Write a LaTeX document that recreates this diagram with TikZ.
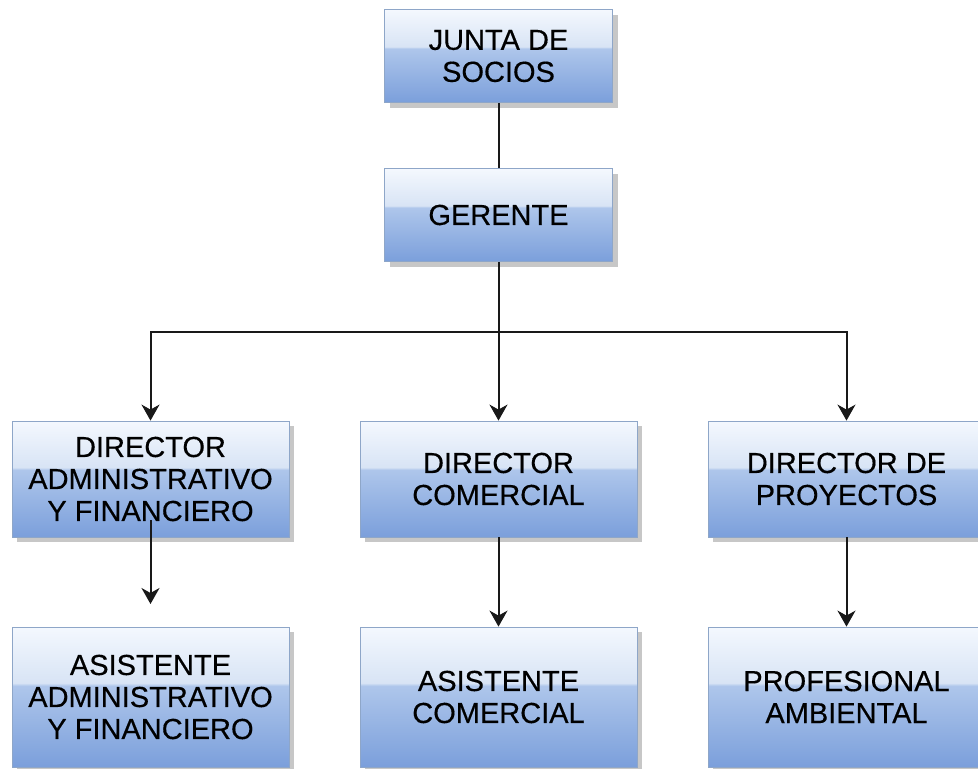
\documentclass[tikz,border=0pt]{standalone}
\usepackage{fontspec}
\setmainfont{Liberation Sans}[FakeBold=0.4]
\usetikzlibrary{arrows.meta,shadows}
\definecolor{btop}{HTML}{F4F8FE}
\definecolor{bhi}{HTML}{D8E4F5}
\definecolor{bmid}{HTML}{AEC6EB}
\definecolor{bbot}{HTML}{7B9FDB}
\definecolor{bline}{HTML}{8EA6C8}
\pgfdeclareverticalshading{gloss}{100bp}{color(0bp)=(bbot); color(25bp)=(bbot); color(54bp)=(bmid); color(55bp)=(bhi); color(75bp)=(btop); color(100bp)=(btop)}
\tikzset{
  orgbox/.style={draw=bline, line width=0.8pt, shading=gloss, rectangle, inner sep=0pt,
    align=center, font=\fontsize{29}{32}\selectfont, text=black,
    drop shadow={shadow xshift=5pt, shadow yshift=-5pt, fill=black!22, opacity=1}},
  toprow/.style={orgbox, minimum width=228pt, minimum height=93pt},
  midrow/.style={orgbox, minimum width=277pt, minimum height=116pt},
  lowrow/.style={orgbox, minimum width=277pt, minimum height=140pt},
  conn/.style={line width=2pt, draw=black!90},
  arr/.style={conn, -{Stealth[length=16pt,width=18pt,inset=5pt]}}
}
\begin{document}
\begin{tikzpicture}[x=1pt,y=-1pt]
\useasboundingbox (0,0) rectangle (978,769);
\node[toprow] (junta) at (498.5,56) {JUNTA DE\\SOCIOS};
\node[toprow] (gerente) at (498.5,215) {GERENTE};
\node[midrow] (dadm) at (150.5,479) {DIRECTOR\\ADMINISTRATIVO\\Y FINANCIERO};
\node[midrow] (dcom) at (498.5,479) {DIRECTOR\\COMERCIAL};
\node[midrow] (dpro) at (846.5,479) {DIRECTOR DE\\PROYECTOS};
\node[lowrow] (aadm) at (150.5,697) {ASISTENTE\\ADMINISTRATIVO\\Y FINANCIERO};
\node[lowrow] (acom) at (498.5,697) {ASISTENTE\\COMERCIAL};
\node[lowrow] (prof) at (846.5,697) {PROFESIONAL\\AMBIENTAL};
\coordinate (hub) at (498.5,332);
\coordinate (lstart) at (150.5,520);
\coordinate (lend) at (150.5,604);
\draw[conn] (junta.south) -- (gerente.north);
\draw[conn] (gerente.south) -- (hub);
\draw[arr] (hub) -- (dcom.north);
\draw[arr] (hub) -| (dadm.north);
\draw[arr] (hub) -| (dpro.north);
\draw[arr] (lstart) -- (lend);
\draw[arr] (dcom.south) -- (acom.north);
\draw[arr] (dpro.south) -- (prof.north);
\end{tikzpicture}
\end{document}
